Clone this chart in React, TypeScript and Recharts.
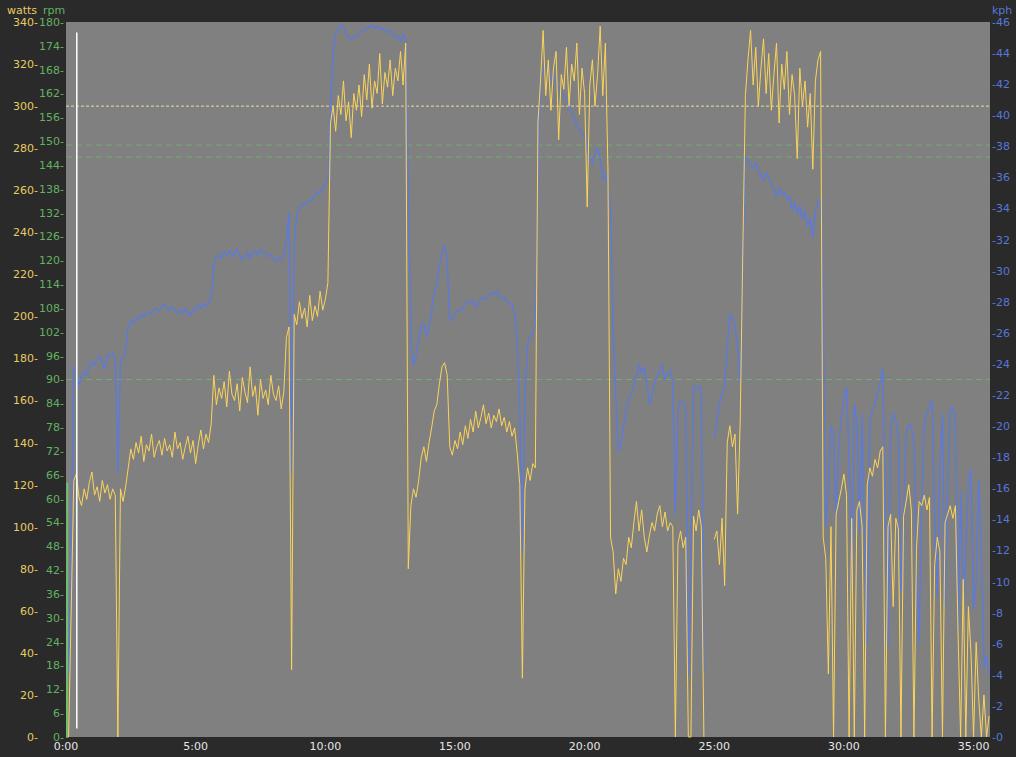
import React from 'react';
import { LineChart, Line, XAxis, YAxis, CartesianGrid, ReferenceLine } from 'recharts';

// one sample every 6 seconds
const SAMPLE_SECONDS = 6;

const watts: (number | null)[] = [
  0, 0, 60, 122,
  125, 114, 110, 118, 113, 121, 126, 115, 119, 112, 122, 116, 120, 113, 118, 115,
  0,
  118, 112, 119,
  128, 137, 132, 140, 135, 143, 131, 139, 136, 144, 133, 138, 141, 134, 142, 136, 139, 133, 145, 137, 140, 132, 138, 143, 135, 141, 130, 139, 146, 137, 144, 140, 149,
  172, 158, 166, 161, 169, 157, 174, 163, 160, 168, 155, 171, 164, 159, 176, 162, 167, 153, 170, 161, 165, 158, 172, 163, 160, 167, 156, 164,
  190, 195, 32,
  201, 196, 207, 199, 204, 195, 210, 198, 205, 200, 212, 203, 208, 216,
  292, 300, 288, 305, 296, 312, 293, 302, 285, 306, 298, 310, 295, 315, 303, 320, 299, 312, 306, 325, 301, 316, 309, 322, 305, 318, 312, 326, 310, 330,
  80,
  110, 118, 114, 122, 133, 138, 131, 140,
  147, 155, 158, 168, 176, 178, 172,
  138, 134, 141, 137, 145, 139, 148, 142, 151, 145, 155, 147, 152, 158, 149, 154, 147, 153, 150, 156, 148, 152, 145, 150, 143, 147,
  135, 120, 28, 118, 128, 122, 130, 128,
  292, 312, 336, 305, 322, 298, 318, 326, 284, 315, 308, 328, 300, 320, 312, 330, 296, 318, 306,
  252,
  310, 322, 300, 315, 338, 305, 330,
  270, 95,
  88, 68, 80, 74, 85, 82, 95, 90, 102,
  112, 98, 108, 95, 88, 96, 102, 98, 106, 110, 100, 107, 98, 102,
  100,
  0, 92, 98, 90, 95, 0, 0, 105, 98, 108, 100, 0,
  null, null, null,
  94, 98, 82, 104, 72, 140, 148, 138, 144, 106, 150, 230, 305,
  322, 336, 310, 328, 300, 318, 332, 306, 325, 298, 315, 330, 292, 320, 308, 326, 296, 315, 305, 275, 318, 300, 312, 290, 306, 270, 312, 322, 326,
  95, 85, 30, 100, 0, 106, 112, 118, 125, 115, 0, 104, 0, 108, 112, 100, 0, 120, 128, 124, 132, 128, 136, 138, 0,
  100, 106, 62, 104, 99, 0, 105, 112, 120, 108, 0, 90, 112, 110, 115, 108, 114, 0, 82, 95, 88, 0, 102, 106, 110,
  104, 110, 50, 0, 75, 0, 62, 40, 0, 45, 18, 0, 20, 0, 10,
];

const kph: (number | null)[] = [
  null, 4, 12, 23.8,
  23.6, 22.6, 23.2, 23.5, 23.3, 23.8, 24.1, 23.9, 24.3, 24.5, 24.0, 23.7, 24.6, 24.5, 24.7, 24.5,
  17.0,
  24.2, 24.4, 24.9,
  26.4, 26.8, 26.6, 27.0, 26.9, 27.2, 27.0, 27.3, 27.4, 27.2, 27.5, 27.6, 27.4, 27.7, 27.8, 27.6, 27.5, 27.7, 27.4, 27.3, 27.5, 27.2, 27.6, 27.3, 27.1, 27.5, 27.4, 27.8, 27.6, 27.9, 27.7, 28.0, 28.2,
  30.4, 30.9, 31.0, 30.8, 31.2, 31.0, 31.3, 30.9, 31.1, 31.4, 31.0, 30.7, 30.9, 31.2, 30.8, 31.1, 31.3, 31.0, 31.4, 31.2, 31.1, 30.9, 31.0, 30.8, 30.6, 30.8, 30.7, 31.0,
  32.0, 33.8, 17.0,
  31.5,
  33.6, 34.1, 34.3, 34.2, 34.4, 34.6, 34.5, 34.9, 35.1, 35.0, 35.3, 35.6, 35.8,
  40.0, 44.0, 45.2,
  45.6, 45.8, 45.7, 45.2, 45.0, 44.9, 45.1, 45.0, 45.2, 45.4, 45.6, 45.5, 45.7, 45.8, 45.6, 45.7, 45.5, 45.6, 45.4, 45.3, 45.5, 45.2, 45.0, 45.1, 44.8, 45.2, 44.9,
  36, 25.5, 23.9, 24.6, 25.6, 26.5, 26.6, 25.8, 26.3, 27.4, 28.6, 29.2, 30.3, 31.2, 31.6, 30.6, 26.8,
  26.9, 27.2, 27.5, 27.4, 27.6, 27.8, 28.0, 27.9, 28.1, 27.7, 27.8, 28.2, 28.3, 28.1, 28.4, 28.6, 28.5, 28.7, 28.4, 28.2, 28.3, 28.0, 27.9, 27.8, 27.3,
  25.5, 21, 11.8, 22, 25.3, 25.8, 26.0, 26.4,
  36, 42.5,
  42.8, 43.2, 42.9, 42.4, 42.6, 42.0, 41.8, 41.6, 41.2, 41.0, 40.6, 40.2, 39.8, 39.3, 39.1, 38.8, 38.5, 38.0, 37.3, 36.9, 37.6, 37.9, 37.2, 35.9, 36.2, 35.4,
  34.0, 26, 22, 18.4, 18.8, 20.0, 21.0, 21.8, 22.0, 22.6, 23.2, 23.9, 23.4, 23.8, 22.8, 21.4, 22.0, 22.8, 23.2, 23.6, 23.9, 23.0, 23.4, 23.6, 22.8,
  14.3, 21.0, 21.6, 21.5, 21.2, 3.9, 12, 22.5, 22.6, 22.4, 22.5, 4.2,
  null, null, null,
  19.3, 20.2, 21.4, 22.0, 22.5, 25.0, 27.2, 27.0, 26.5, 25.0, 22.8, 30, 37.3,
  37.0, 36.8, 36.6, 36.9, 36.4, 36.1, 35.8, 36.3, 36.0, 35.6, 35.2, 34.8, 35.3, 34.9, 35.1, 34.6, 34.8, 33.9, 34.4, 33.6, 34.2, 33.3, 33.9, 32.8, 33.4, 32.1, 33.8, 34.4, 34.6,
  28, 13.5, 16,
  20.0, 19.6, 13.8, 18.5, 20.6, 21.8, 22.5, 18.0, 9.5, 21.4, 20.2, 13.1, 20.8, 12.0, 6.0, 20.3, 21.0, 21.5, 22.2, 22.8,
  23.7, 14, 5.7, 20.0, 20.8, 20.4, 19.2, 9.3, 14.5, 19.6, 20.1, 20.0, 19.0, 11.0, 6.0, 15.0, 20.2, 20.8, 21.3, 21.6,
  14, 9.0, 17.5, 20.8, 8.4, 16, 21.0, 21.2, 20.6, 6.9, 15.8, 8.5, 12, 16.5, 17.2, 8.2, 10, 16.6, 12, 4.5, 5.2, 4.0,
];

// cadence only logged for a moment at the start
const rpmTimes = [2, 3];
const rpmValues = [0, 64];

const wattsTicks = [0, 20, 40, 60, 80, 100, 120, 140, 160, 180, 200, 220, 240, 260, 280, 300, 320, 340];
const rpmTicks = [0, 6, 12, 18, 24, 30, 36, 42, 48, 54, 60, 66, 72, 78, 84, 90, 96, 102, 108, 114, 120, 126, 132, 138, 144, 150, 156, 162, 168, 174, 180];
const kphTicks = [0, 2, 4, 6, 8, 10, 12, 14, 16, 18, 20, 22, 24, 26, 28, 30, 32, 34, 36, 38, 40, 42, 44, 46];
const timeTicks = [0, 300, 600, 900, 1200, 1500, 1800, 2100];

const wattsTarget = 300;
const rpmTargets = [149, 146, 90];
const markerSeconds = 25;

const rows = watts.map((w, i) => ({ t: i * SAMPLE_SECONDS, watts: w, kph: kph[i] }));
const rpmRows = rpmTimes.map((t, i) => ({ t, rpm: rpmValues[i] }));

const FONT = '"DejaVu Sans", Verdana, sans-serif';
const YELLOW = '#fcd45a';
const YELLOW_TEXT = '#e8cb62';
const GREEN_TEXT = '#62b262';
const BLUE = '#5a7ae0';
const BLUE_TEXT = '#5677dc';

const fmtTime = (v: number) => `${Math.floor(v / 60)}:${String(v % 60).padStart(2, '0')}`;

const leftTick = (color: string, right: number) => (props: any) => (
  <text x={right} y={props.y} dy="0.36em" textAnchor="end" fill={color} fontSize={11} fontFamily={FONT}>
    {props.payload.value}-
  </text>
);

const rightTick = (props: any) => (
  <text x={992} y={props.y} dy="0.36em" textAnchor="start" fill={BLUE_TEXT} fontSize={11} fontFamily={FONT}>
    -{props.payload.value}
  </text>
);

const timeTick = (props: any) => (
  <text x={props.x} y={750} textAnchor="middle" fill="#e6e6e6" fontSize={11} fontFamily={FONT}>
    {fmtTime(props.payload.value)}
  </text>
);

const title = (text: string, left: number, color: string) => (
  <div
    style={{
      position: 'absolute',
      left,
      top: 4,
      fontSize: 11,
      lineHeight: '13px',
      fontFamily: FONT,
      color,
    }}
  >
    {text}
  </div>
);

export default function App() {
  return (
    <div style={{ position: 'absolute', left: 0, top: 0, width: 1016, height: 757, background: '#2a2a2a' }}>
      {title('watts', 7, YELLOW_TEXT)}
      {title('rpm', 43, GREEN_TEXT)}
      {title('kph', 992, BLUE_TEXT)}
      <LineChart width={1016} height={757} data={rows} margin={{ top: 22, right: 0, bottom: 0, left: 0 }}>
        <CartesianGrid yAxisId="watts" fill="#808080" stroke="none" horizontal={false} vertical={false} />
        <XAxis
          dataKey="t"
          type="number"
          domain={[0, 2138]}
          ticks={timeTicks}
          height={20}
          axisLine={false}
          tickLine={false}
          tick={timeTick}
          allowDataOverflow
        />
        <YAxis yAxisId="rpm" orientation="left" width={26} domain={[0, 180]} ticks={rpmTicks} axisLine={false} tickLine={false} tick={leftTick(GREEN_TEXT, 64)} interval={0} />
        <YAxis yAxisId="watts" orientation="left" width={40} domain={[0, 340]} ticks={wattsTicks} axisLine={false} tickLine={false} tick={leftTick(YELLOW_TEXT, 38)} interval={0} />
        <YAxis yAxisId="kph" orientation="right" width={26} domain={[0, 46]} ticks={kphTicks} axisLine={false} tickLine={false} tick={rightTick} interval={0} />

        <ReferenceLine yAxisId="watts" y={wattsTarget} stroke="#efd9a2" strokeDasharray="3 2" />
        {rpmTargets.map((r) => (
          <ReferenceLine key={r} yAxisId="rpm" y={r} stroke="#72ab72" strokeDasharray="6 4" />
        ))}

        <Line yAxisId="kph" dataKey="kph" stroke={BLUE} strokeWidth={1.3} dot={false} type="linear" isAnimationActive={false} />
        <Line yAxisId="watts" dataKey="watts" stroke={YELLOW} strokeWidth={1} dot={false} type="linear" isAnimationActive={false} />
        <Line yAxisId="rpm" data={rpmRows} dataKey="rpm" stroke="#6fbf6f" strokeWidth={2} dot={false} type="linear" isAnimationActive={false} />

        <ReferenceLine
          yAxisId="watts"
          segment={[{ x: markerSeconds, y: 4 }, { x: markerSeconds, y: 335 }]}
          stroke="#ffffff"
          strokeWidth={1.5}
        />
      </LineChart>
    </div>
  );
}
